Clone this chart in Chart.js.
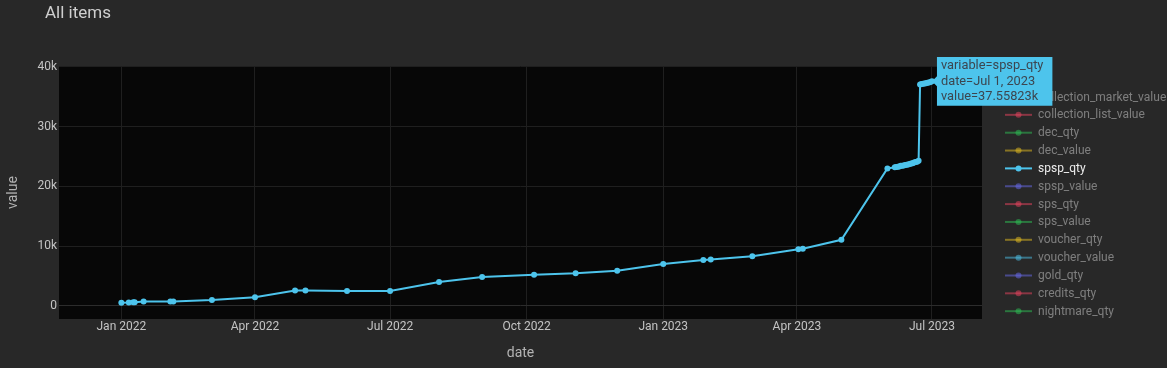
<!DOCTYPE html>
<html>
<head>
<meta charset="utf-8">
<script src="https://cdn.jsdelivr.net/npm/chart.js@4.4.0/dist/chart.umd.min.js"></script>
<style>
  body { margin: 0; background: #282828; }
  canvas { display: block; }
</style>
</head>
<body>
<canvas id="chart" width="1167" height="368"></canvas>
<script>
// data
const variables = ["collection_market_value", "collection_list_value", "dec_qty", "dec_value",
  "spsp_qty", "spsp_value", "sps_qty", "sps_value", "voucher_qty", "voucher_value",
  "gold_qty", "credits_qty", "nightmare_qty"];

const spspDates = ["2022-01-01", "2022-01-06", "2022-01-09", "2022-01-10", "2022-01-16",
  "2022-02-03", "2022-02-05", "2022-03-03", "2022-04-01", "2022-04-28", "2022-05-05",
  "2022-06-02", "2022-07-01", "2022-08-03", "2022-09-01", "2022-10-06", "2022-11-03",
  "2022-12-01", "2023-01-01", "2023-01-28", "2023-02-02", "2023-03-02", "2023-04-02",
  "2023-04-05", "2023-05-01", "2023-06-01", "2023-06-06", "2023-06-07", "2023-06-08",
  "2023-06-09", "2023-06-10", "2023-06-11", "2023-06-12", "2023-06-13", "2023-06-14",
  "2023-06-15", "2023-06-16", "2023-06-17", "2023-06-18", "2023-06-19", "2023-06-20",
  "2023-06-21", "2023-06-22", "2023-06-23", "2023-06-24", "2023-06-25", "2023-06-26",
  "2023-06-27", "2023-06-28", "2023-06-29", "2023-06-30", "2023-07-01"];

const spspValues = [530, 540, 600, 610, 700,
  710, 720, 970, 1420, 2540, 2540,
  2480, 2480, 3970, 4810, 5210, 5430,
  5880, 6980, 7650, 7760, 8310, 9480,
  9550, 11050, 22980, 23180, 23230, 23260,
  23330, 23420, 23450, 23480, 23560, 23600,
  23650, 23740, 23800, 23850, 23960, 24050,
  24120, 24280, 37050, 37120, 37160, 37200,
  37260, 37310, 37380, 37470, 37558.23];

const xTickDates = ["2022-01-01", "2022-04-01", "2022-07-01", "2022-10-01", "2023-01-01", "2023-04-01", "2023-07-01"];
const xTickLabels = ["Jan 2022", "Apr 2022", "Jul 2022", "Oct 2022", "Jan 2023", "Apr 2023", "Jul 2023"];
const yTickValues = [0, 10000, 20000, 30000, 40000];
const yTickLabels = ["0", "10k", "20k", "30k", "40k"];
const xRange = ["2021-11-20T00:00:00Z", "2023-08-03T17:00:00Z"];
const yRange = [-2210, 40130];

const palette = ["#6a6cf0", "#ee4460", "#2ec456", "#e8c020", "#4dc4ec"];
const monthNames = ["Jan", "Feb", "Mar", "Apr", "May", "Jun", "Jul", "Aug", "Sep", "Oct", "Nov", "Dec"];

const toTime = d => Date.parse(d.length > 10 ? d : d + "T00:00:00Z");
const fontFamily = "Roboto, 'Open Sans', sans-serif";

const datasets = variables.map((name, i) => {
  const shown = name === "spsp_qty";
  return {
    label: name,
    data: shown ? spspDates.map((d, j) => ({ x: toTime(d), y: spspValues[j] })) : [],
    hidden: !shown,
    borderColor: palette[i % 5],
    backgroundColor: palette[i % 5],
    borderWidth: 2,
    pointRadius: 3,
    pointHoverRadius: 3,
    pointBorderWidth: 0,
    tension: 0
  };
});

// paper + plot background
const backgroundPlugin = {
  id: "plotBackground",
  beforeDraw(chart) {
    const { ctx, chartArea: a } = chart;
    ctx.save();
    ctx.fillStyle = "#282828";
    ctx.fillRect(0, 0, chart.width, chart.height);
    ctx.fillStyle = "#070707";
    ctx.fillRect(a.left, a.top, a.right - a.left, a.bottom - a.top);
    ctx.restore();
  }
};

// title and plotly style legend
const legendPlugin = {
  id: "sideLegend",
  afterDatasetsDraw(chart) {
    const ctx = chart.ctx;
    ctx.save();
    ctx.textBaseline = "middle";
    ctx.textAlign = "left";
    ctx.font = "17px " + fontFamily;
    ctx.fillStyle = "#cfcfcf";
    ctx.fillText("All items", 45, 14);

    ctx.font = "12px " + fontFamily;
    ctx.fillStyle = "#dcdcdc";
    ctx.fillText("variable", 1005, 79);

    chart.data.datasets.forEach((ds, i) => {
      const y = 97 + i * 17.85;
      ctx.globalAlpha = ds.hidden ? 0.5 : 1;
      ctx.strokeStyle = ds.borderColor;
      ctx.lineWidth = 2;
      ctx.beginPath();
      ctx.moveTo(1005, y);
      ctx.lineTo(1032, y);
      ctx.stroke();
      ctx.fillStyle = ds.borderColor;
      ctx.beginPath();
      ctx.arc(1018.5, y, 3, 0, Math.PI * 2);
      ctx.fill();
      ctx.fillStyle = ds.hidden ? "#d4d4d4" : "#ececec";
      ctx.fillText(ds.label, 1038, y + 0.5);
    });
    ctx.restore();
  }
};

const chart = new Chart(document.getElementById("chart"), {
  type: "line",
  data: { datasets: datasets },
  plugins: [backgroundPlugin, legendPlugin],
  options: {
    responsive: false,
    animation: false,
    layout: { padding: { left: 0, right: 185, top: 66, bottom: 0 } },
    events: [],
    scales: {
      x: {
        type: "linear",
        min: toTime(xRange[0]),
        max: toTime(xRange[1]),
        afterFit: s => { s.height = 49; },
        afterBuildTicks: s => { s.ticks = xTickDates.map(d => ({ value: toTime(d) })); },
        ticks: {
          autoSkip: false,
          maxRotation: 0,
          padding: 1,
          color: "#c4c4c4",
          font: { family: fontFamily, size: 12 },
          callback: (v, i) => xTickLabels[i]
        },
        grid: { color: "#1f1f1f", drawTicks: false },
        border: { display: false },
        title: {
          display: true,
          text: "date",
          color: "#b4b4b4",
          font: { family: fontFamily, size: 14 },
          padding: { bottom: 6.5, top: 0 }
        }
      },
      y: {
        min: yRange[0],
        max: yRange[1],
        afterFit: s => { s.width = 59; },
        afterBuildTicks: s => { s.ticks = yTickValues.map(v => ({ value: v })); },
        ticks: {
          padding: 2,
          color: "#c4c4c4",
          font: { family: fontFamily, size: 12 },
          callback: (v, i) => yTickLabels[i]
        },
        grid: {
          color: c => (c.tick && c.tick.value === 0) ? "#2c2c2c" : "#1f1f1f",
          drawTicks: false
        },
        border: { display: false },
        title: {
          display: true,
          text: "value",
          color: "#b4b4b4",
          font: { family: fontFamily, size: 14 },
          padding: { top: 4.6, bottom: 0 }
        }
      }
    },
    plugins: {
      legend: { display: false },
      tooltip: {
        enabled: true,
        xAlign: "left",
        yAlign: "center",
        caretSize: 5,
        caretPadding: 0,
        cornerRadius: 0,
        displayColors: false,
        backgroundColor: "#4dc4ec",
        bodyColor: "#3c4650",
        bodyFont: { family: fontFamily, size: 12.8, lineHeight: "15.6px" },
        bodySpacing: 0,
        padding: { left: 4, right: 9, top: 1, bottom: 1 },
        callbacks: {
          title: () => [],
          label: item => {
            const d = new Date(item.raw.x);
            const date = monthNames[d.getUTCMonth()] + " " + d.getUTCDate() + ", " + d.getUTCFullYear();
            const val = parseFloat((item.raw.y / 1000).toFixed(5)) + "k";
            return ["variable=" + item.dataset.label, "date=" + date, "value=" + val];
          }
        }
      }
    }
  }
});

// show the hover label on the last spsp_qty point
const spspIndex = variables.indexOf("spsp_qty");
const lastIndex = spspValues.length - 1;
const lastPoint = chart.getDatasetMeta(spspIndex).data[lastIndex];
chart.tooltip.setActiveElements([{ datasetIndex: spspIndex, index: lastIndex }], { x: lastPoint.x, y: lastPoint.y });
chart.update();
</script>
</body>
</html>
